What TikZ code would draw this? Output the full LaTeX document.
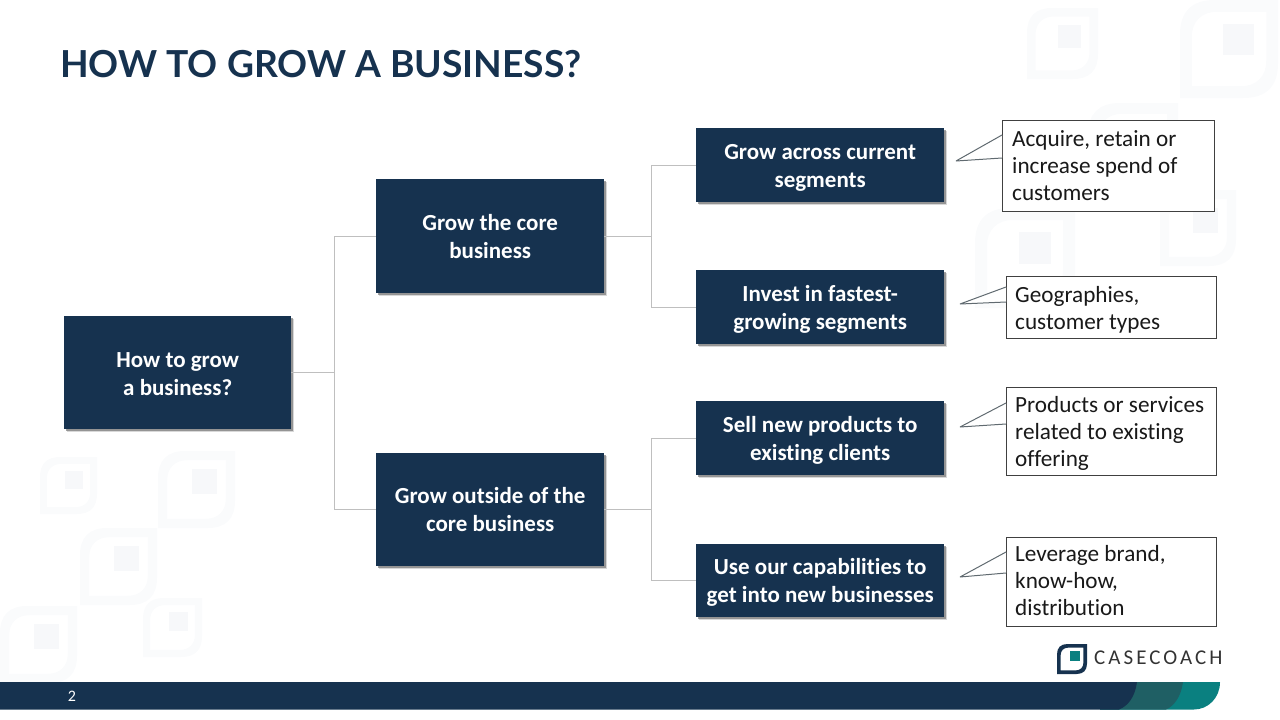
\documentclass[tikz,border=0pt]{standalone}
\usepackage{fontspec}
\setmainfont[Ligatures=NoCommon]{Carlito}
\newfontfamily\titlefont{Lato}
\newfontfamily\logofont[LetterSpace=14.5]{Carlito}
\usetikzlibrary{shadows}
\definecolor{navy}{HTML}{16324F}
\definecolor{teal1}{HTML}{0A8080}
\definecolor{teal2}{HTML}{1F5F64}
\definecolor{wm}{HTML}{FAFBFC}
\definecolor{wmdark}{HTML}{F7F8FA}
\definecolor{wire}{HTML}{BFBFBF}
\definecolor{calline}{HTML}{404040}
\definecolor{tailline}{HTML}{606A70}
\newcommand{\leafmark}[5]{%
\begin{scope}[shift={(#1,#2)},x=#3pt,y=-#3pt]
\fill[#4,even odd rule] (0,1) -- (0,.35) .. controls (0,.12) and (.12,0) .. (.35,0) -- (1,0) -- (1,.65) .. controls (1,.88) and (.88,1) .. (.65,1) -- cycle
 (.12,.88) -- (.12,.38) .. controls (.12,.22) and (.22,.12) .. (.38,.12) -- (.88,.12) -- (.88,.62) .. controls (.88,.78) and (.78,.88) .. (.62,.88) -- cycle;
\fill[#5] (.44,.24) rectangle (.76,.56);
\end{scope}}
\newcommand{\tailshape}[5]{%
\fill[white] (#1,#2) -- (#3,#4) -- (#1,#5) -- cycle;
\draw[tailline,line width=1pt,line join=bevel] (#1,#2) -- (#3,#4) -- (#1,#5);}
\newcommand{\dn}[1]{\rule{0pt}{#1pt}}
\tikzset{
 darkbox/.style={fill=navy,text=white,align=center,font=\bfseries\fontsize{23}{28}\selectfont,inner sep=0pt,anchor=north west,
  drop shadow={shadow xshift=3pt,shadow yshift=-3pt,fill=black!30,opacity=.5},
  drop shadow={shadow xshift=1.5pt,shadow yshift=-1.5pt,fill=black!60,opacity=.6}},
 calloutbox/.style={draw=calline,line width=.9pt,fill=white,inner sep=0pt,anchor=north west},
 callouttext/.style={anchor=west,inner sep=0pt,align=left,font=\fontsize{23.2}{27}\selectfont,text=black!90},
 wire/.style={draw=wire,line width=1pt}
}
\begin{document}
\begin{tikzpicture}[x=1pt,y=-1pt]
\useasboundingbox (0,0) rectangle (1280,720);
% watermarks
\leafmark{1027}{8}{71}{wm}{wmdark}
\leafmark{1180}{0}{98}{wm}{wmdark}
\leafmark{1088}{103}{90}{wm}{wmdark}
\leafmark{975}{208}{100}{wm}{wmdark}
\leafmark{1160}{190}{76}{wm}{wmdark}
\leafmark{40}{457}{57}{wm}{wmdark}
\leafmark{158}{451}{77}{wm}{wmdark}
\leafmark{80}{528}{77}{wm}{wmdark}
\leafmark{0}{606}{77}{wm}{wmdark}
\leafmark{143}{598}{59}{wm}{wmdark}
% title
\node[anchor=west,inner sep=0pt,text=navy,font=\titlefont\bfseries\fontsize{37.2}{40}\selectfont] (title) at (60,64) {HOW TO GROW A BUSINESS?};
% boxes
\node[darkbox,minimum width=227pt,minimum height=113pt] (root) at (64,316) {\dn{18}How to grow\\a business?};
\node[darkbox,minimum width=228pt,minimum height=114pt] (core) at (376,179) {Grow the core\\business};
\node[darkbox,minimum width=228pt,minimum height=113pt] (outside) at (376,453) {Grow outside of the\\core business};
\node[darkbox,minimum width=248pt,minimum height=74pt] (l1) at (696,128) {\dn{20}Grow across current\\segments};
\node[darkbox,minimum width=248pt,minimum height=74pt] (l2) at (696,270) {\dn{20}Invest in fastest-\\growing segments};
\node[darkbox,minimum width=248pt,minimum height=74pt] (l3) at (696,401) {\dn{20}Sell new products to\\existing clients};
\node[darkbox,minimum width=248pt,minimum height=73pt] (l4) at (696,544) {\dn{20}Use our capabilities to\\get into new businesses};
% connectors
\coordinate (x0) at (334,0);
\coordinate (x1) at (651,0);
\coordinate (j0) at (x0 |- root.east);
\coordinate (j1) at (x1 |- core.east);
\coordinate (j2) at (x1 |- outside.east);
\draw[wire] (root.east) -- (j0) |- (core.west);
\draw[wire] (j0) |- (outside.west);
\draw[wire] (core.east) -- (j1) |- (l1.west);
\draw[wire] (j1) |- (l2.west);
\draw[wire] (outside.east) -- (j2) |- (l3.west);
\draw[wire] (j2) |- (l4.west);
% callouts
\node[calloutbox,minimum width=211.5pt,minimum height=91pt] (c1) at (1002,120) {};
\node[calloutbox,minimum width=209.5pt,minimum height=62pt] (c2) at (1006,276) {};
\node[calloutbox,minimum width=209.5pt,minimum height=88pt] (c3) at (1006,387) {};
\node[calloutbox,minimum width=209.5pt,minimum height=89pt] (c4) at (1006,537) {};
\tailshape{1002}{135}{956}{161}{158}
\tailshape{1006}{287}{960}{304}{302}
\tailshape{1006}{403}{960}{427}{424}
\tailshape{1006}{552}{960}{577}{573}
\node[callouttext] (t1) at (1012,166) {Acquire, retain or\\increase spend of\\customers};
\node[callouttext] (t2) at (1015,310) {Geographies,\\customer types};
\node[callouttext] (t3) at (1015,433) {Products or services\\related to existing\\offering};
\node[callouttext] (t4) at (1015,581) {Leverage brand,\\know-how,\\distribution};
% bottom bar
\fill[teal1] (1100,682) -- (1220,682) .. controls (1220,698) and (1208,709.5) .. (1194,709.5) -- (1100,709.5) -- cycle;
\fill[teal2] (1100,682) -- (1183,682) .. controls (1181,697) and (1174,706) .. (1166,709.5) -- (1100,709.5) -- cycle;
\fill[navy] (0,682) -- (1137,682) .. controls (1135,697) and (1128,706) .. (1119,709.5) -- (0,709.5) -- cycle;
\node[text=white,inner sep=0pt,font=\fontsize{16}{18}\selectfont] (page) at (72,696) {2};
% logo
\leafmark{1057}{644}{30}{navy}{teal1}
\node[anchor=west,inner sep=0pt,text=black!80,font=\logofont\fontsize{21}{24}\selectfont] (logo) at (1094,658) {CASECOACH};
\end{tikzpicture}
\end{document}
